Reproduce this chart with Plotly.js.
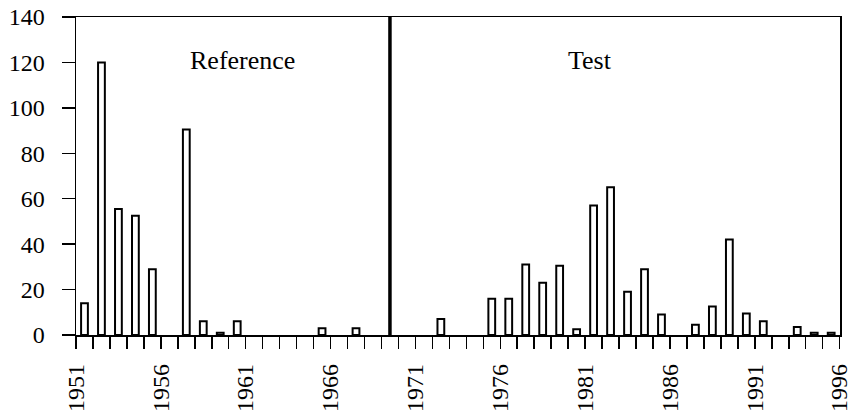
<!DOCTYPE html>
<html>
<head>
<meta charset="utf-8">
<script src="https://cdn.plot.ly/plotly-3.0.1.min.js"></script>
<style>
html,body{margin:0;padding:0;background:#fff;}
#chart{width:849px;height:417px;}
</style>
</head>
<body>
<div id="chart"></div>
<script>
// Years (each bar occupies the interval [year, year+1])
const years = [1951,1952,1953,1954,1955,1956,1957,1958,1959,1960,
               1961,1962,1963,1964,1965,1966,1967,1968,1969,1970,
               1971,1972,1973,1974,1975,1976,1977,1978,1979,1980,
               1981,1982,1983,1984,1985,1986,1987,1988,1989,1990,
               1991,1992,1993,1994,1995];
const counts = [14,120,55.5,52.5,29,0,90.5,6,1,6,
                0,0,0,0,3,0,3,0,0,0,
                0,7,0,0,16,16,31,23,30.5,2.5,
                57,65,19,29,9,0,4.5,12.5,42,9.5,
                6,0,3.5,1,1];
const tickYears = [1951,1956,1961,1966,1971,1976,1981,1986,1991,1996];
const splitYear = 1969;          // boundary between the two periods
const periodLabels = ["Reference","Test"];
const periodLabelX = [1960.8, 1981.3];

const font = "Liberation Serif, Times New Roman, serif";

const trace = {
  type: 'bar',
  x: years.map(y => y + 0.5),
  y: counts.map(v => v === 0 ? null : v),
  width: 0.4,
  marker: {color: '#ffffff', line: {color: '#000000', width: 2}},
  hoverinfo: 'x+y'
};

const layout = {
  width: 849, height: 417,
  margin: {l: 76, r: 9, t: 17, b: 82},
  paper_bgcolor: '#ffffff', plot_bgcolor: '#ffffff',
  showlegend: false,
  font: {family: font, size: 24, color: '#000'},
  xaxis: {
    range: [years[0], years[years.length-1] + 1.02],
    tickmode: 'array', tickvals: tickYears, ticktext: tickYears.map(String),
    tickangle: -90,
    ticks: 'outside', ticklen: 12, tickwidth: 1.5, tickcolor: '#000',
    minor: {dtick: 1, tick0: years[0], ticks: 'outside', ticklen: 12, tickwidth: 1.5, tickcolor: '#000', showgrid: false},
    showline: true, linecolor: '#000', linewidth: 1.5, mirror: true,
    showgrid: false, zeroline: false,
    tickfont: {family: font, size: 24, color: '#000'},
    ticklabeloverflow: 'allow',
    ticklabelstandoff: 6
  },
  yaxis: {
    range: [0, 140], dtick: 20, tick0: 0,
    ticks: 'outside', ticklen: 13, tickwidth: 1.5, tickcolor: '#000',
    showline: true, linecolor: '#000', linewidth: 1.5, mirror: true,
    showgrid: false, zeroline: false,
    tickfont: {family: font, size: 24, color: '#000'},
    ticklabelstandoff: 12
  },
  shapes: [{
    type: 'line', xref: 'x', yref: 'y',
    x0: splitYear + 0.5, x1: splitYear + 0.5, y0: 0, y1: 140,
    line: {color: '#000', width: 3.5}
  }],
  annotations: periodLabels.map((t, i) => ({
    text: t, x: periodLabelX[i], y: 121, xref: 'x', yref: 'y',
    showarrow: false, xanchor: 'center', yanchor: 'middle',
    font: {family: font, size: 26, color: '#000'}
  }))
};

Plotly.newPlot('chart', [trace], layout, {displayModeBar: false, staticPlot: true});
</script>
</body>
</html>
